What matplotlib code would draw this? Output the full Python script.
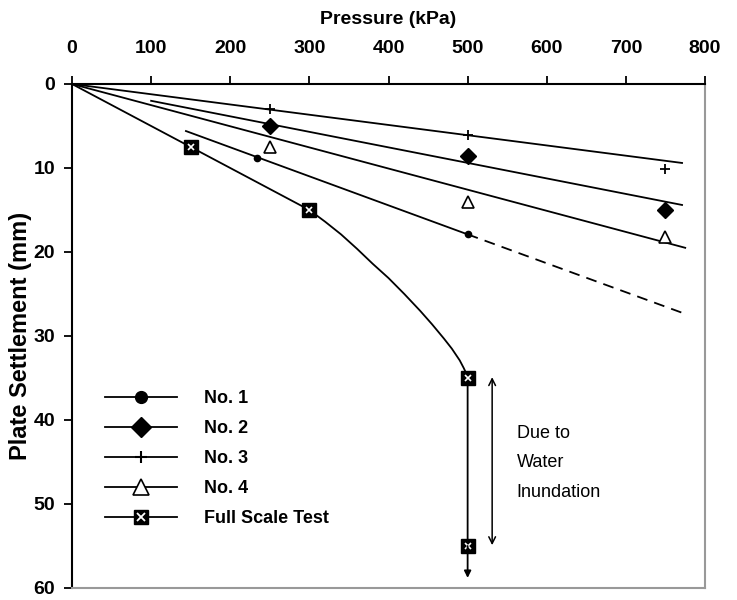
import matplotlib
matplotlib.use('Agg')
import matplotlib.pyplot as plt
from matplotlib.lines import Line2D

plt.rcParams['font.family'] = ['Liberation Sans', 'DejaVu Sans']

# plate load tests
test_p = [250, 500, 750]
no2 = [5.0, 8.6, 15.0]
no3 = [3.0, 6.1, 10.1]
no4 = [7.5, 14.0, 18.2]
no1_p = [234, 500]
no1 = [8.8, 17.9]

# trend lines
no1_fit_p = [144, 500]
no1_fit = [5.6, 17.9]
no1_ext_p = [500, 773]
no1_ext = [17.9, 27.3]
no2_fit_p = [100, 771]
no2_fit = [2.0, 14.4]
no3_fit_p = [0, 771]
no3_fit = [0, 9.4]
no4_fit_p = [0, 775]
no4_fit = [0, 19.5]

# full scale test
fs_line_p = [0, 150, 300, 320, 340, 360, 380, 400, 420, 440, 455, 470,
             480, 490, 495, 498, 500, 500]
fs_line_s = [0, 7.5, 15.0, 16.4, 17.9, 19.6, 21.4, 23.1, 25.0, 27.0, 28.6,
             30.3, 31.5, 32.9, 33.8, 34.4, 35.0, 55.0]
fs_p = [150, 300, 500, 500]
fs_s = [7.5, 15.0, 35.0, 55.0]

fig = plt.figure(figsize=(7.37, 6.0), dpi=100)
ax = fig.add_axes([72/737, 1-588/600, 633/737, 504/600])

lw = 1.3
ax.plot(no3_fit_p, no3_fit, 'k-', lw=lw)
ax.plot(no2_fit_p, no2_fit, 'k-', lw=lw)
ax.plot(no4_fit_p, no4_fit, 'k-', lw=lw)
ax.plot(no1_fit_p, no1_fit, 'k-', lw=lw)
ax.plot(no1_ext_p, no1_ext, 'k--', lw=lw, dashes=(6, 4))
ax.plot(fs_line_p, fs_line_s, 'k-', lw=lw)

ax.plot(no1_p, no1, 'o', color='k', ms=4.5, ls='none')
ax.plot(test_p, no2, 'D', color='k', ms=8, ls='none')
ax.plot(test_p, no3, '+', color='k', ms=6.5, mew=1.3, ls='none')
ax.plot(test_p, no4, '^', mfc='white', mec='k', ms=9, mew=1.2, ls='none')
ax.plot(fs_p, fs_s, 's', color='k', ms=9.5, ls='none')
ax.plot(fs_p, fs_s, 'x', color='white', ms=5, mew=1.2, ls='none')

# arrows
ax.annotate('', xy=(500, 58.8), xytext=(500, 55),
            arrowprops=dict(arrowstyle='-|>', color='k', lw=lw,
                            mutation_scale=10, shrinkA=0, shrinkB=0))
ax.annotate('', xy=(531, 34.9), xytext=(531, 54.9),
            arrowprops=dict(arrowstyle='<->', color='k', lw=1.1,
                            mutation_scale=12, shrinkA=0, shrinkB=0))
ax.text(562, 45.1, 'Due to\nWater\nInundation', fontsize=13, va='center',
        ha='left', linespacing=1.95)

ax.set_xlim(0, 800)
ax.set_ylim(60, 0)
ax.xaxis.tick_top()
ax.set_xticks(range(0, 801, 100))
ax.set_yticks(range(0, 61, 10))
ax.tick_params(axis='x', direction='out', length=6, width=1.3, pad=13.5,
               labelsize=14)
ax.tick_params(axis='y', direction='out', length=6, width=1.3, pad=6,
               labelsize=14)
for lab in ax.get_xticklabels() + ax.get_yticklabels():
    lab.set_fontweight('bold')
ax.set_title('Pressure (kPa)', fontsize=14, fontweight='bold', y=1.127,
             va='center', pad=0)
ax.set_ylabel('Plate Settlement (mm)', fontsize=17, fontweight='bold',
              labelpad=1)

ax.spines['left'].set_color('k')
ax.spines['top'].set_color('k')
ax.spines['left'].set_linewidth(1.5)
ax.spines['top'].set_linewidth(1.5)
ax.spines['right'].set_color('#999999')
ax.spines['bottom'].set_color('#999999')
ax.spines['right'].set_linewidth(1.5)
ax.spines['bottom'].set_linewidth(1.5)

handles = [
    Line2D([], [], color='k', lw=lw, marker='o', ms=8.5),
    Line2D([], [], color='k', lw=lw, marker='D', ms=10),
    Line2D([], [], color='k', lw=lw, marker='+', ms=9, mew=1.5),
    Line2D([], [], color='k', lw=lw, marker='^', mfc='white', mec='k',
           ms=12, mew=1.2),
    (Line2D([], [], color='k', lw=lw, marker='s', ms=10),
     Line2D([], [], ls='none', marker='x', color='white', ms=5.5, mew=1.3)),
]
labels = ['No. 1', 'No. 2', 'No. 3', 'No. 4', 'Full Scale Test']
leg = ax.legend(handles, labels, loc='upper left',
                bbox_to_anchor=(33/633, 1-(390-84)/504), frameon=False,
                borderpad=0, borderaxespad=0, handlelength=4.0,
                handletextpad=1.5, labelspacing=0.72,
                prop={'size': 13, 'weight': 'bold'})

fig.savefig('out.png', dpi=100)
